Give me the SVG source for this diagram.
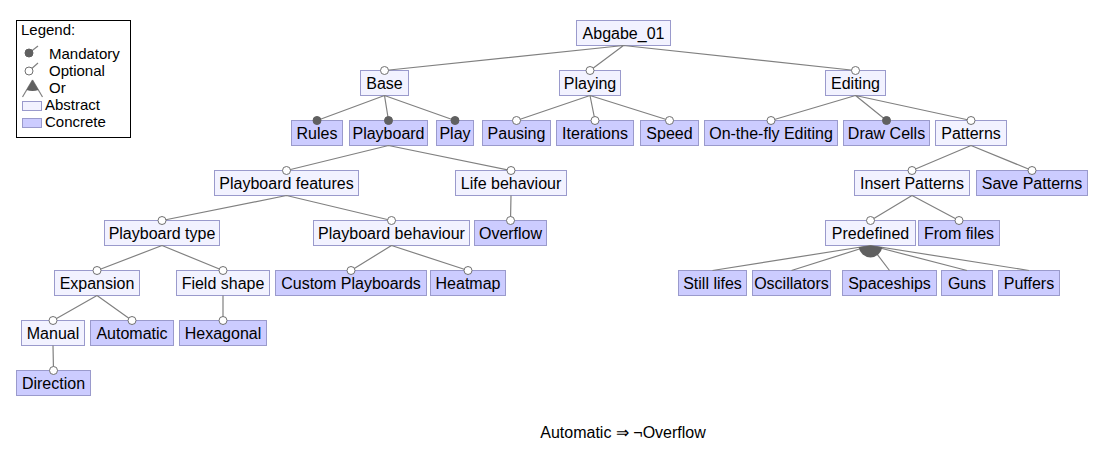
<svg xmlns="http://www.w3.org/2000/svg" width="1106" height="454" viewBox="0 0 1106 454">
<style>
.a{fill:#F2F2FF;stroke:#9A9ACC;stroke-width:1}
.c{fill:#CCCCFF;stroke:#9A9ACC;stroke-width:1}
text{font-family:"Liberation Sans",Arial,sans-serif;font-size:16px;fill:#000}
.t{text-anchor:middle}
.lg{font-size:15px}
.e{stroke:#808080;stroke-width:1.2;fill:none}
.m{fill:#606060;stroke:#606060;stroke-width:1}
.o{fill:#fff;stroke:#707070;stroke-width:1}
.or{fill:#606060;stroke:none}
</style>
<rect width="1106" height="454" fill="#fff"/>
<g id="legend">
<rect x="16.5" y="20.5" width="114" height="117" fill="#fff" stroke="#000"/>
<text class="lg" x="21" y="35">Legend:</text>
<line x1="29" y1="53" x2="38" y2="46" class="e"/>
<circle cx="29" cy="53" r="4" class="m"/>
<text class="lg" x="49" y="59">Mandatory</text>
<line x1="29" y1="71" x2="38" y2="63" class="e"/>
<circle cx="29" cy="71" r="4" class="o"/>
<text class="lg" x="49" y="76">Optional</text>
<line x1="32.5" y1="80" x2="22.5" y2="97" class="e"/>
<line x1="32.5" y1="80" x2="42.5" y2="97" class="e"/>
<path d="M32.5,80 L26.5,90 Q32.5,92 38.5,90 Z" class="or"/>
<text class="lg" x="49" y="93">Or</text>
<rect x="22.5" y="101.5" width="19" height="9" class="a"/>
<text class="lg" x="45" y="110">Abstract</text>
<rect x="22.5" y="118.5" width="19" height="9" class="c"/>
<text class="lg" x="45" y="127">Concrete</text>
</g>
<g id="nodes">
<g id="n-abgabe"><rect class="a" x="576.5" y="20.5" width="94" height="25"/><text class="t" x="623.5" y="39">Abgabe_01</text></g>
<g id="n-base"><rect class="a" x="360.5" y="70.5" width="48" height="25"/><text class="t" x="384.5" y="89">Base</text></g>
<g id="n-playing"><rect class="a" x="559.5" y="70.5" width="61" height="25"/><text class="t" x="590" y="89">Playing</text></g>
<g id="n-editing"><rect class="a" x="825.5" y="70.5" width="60" height="25"/><text class="t" x="855.5" y="89">Editing</text></g>
<g id="n-rules"><rect class="c" x="291.5" y="120.5" width="51" height="25"/><text class="t" x="317" y="139">Rules</text></g>
<g id="n-playboard"><rect class="c" x="349.5" y="120.5" width="78" height="25"/><text class="t" x="388.5" y="139">Playboard</text></g>
<g id="n-play"><rect class="c" x="436.5" y="120.5" width="37" height="25"/><text class="t" x="455" y="139">Play</text></g>
<g id="n-pausing"><rect class="c" x="482.5" y="120.5" width="68" height="25"/><text class="t" x="516.5" y="139">Pausing</text></g>
<g id="n-iterations"><rect class="c" x="556.5" y="120.5" width="77" height="25"/><text class="t" x="595" y="139">Iterations</text></g>
<g id="n-speed"><rect class="c" x="640.5" y="120.5" width="58" height="25"/><text class="t" x="669.5" y="139">Speed</text></g>
<g id="n-otf"><rect class="c" x="704.5" y="120.5" width="133" height="25"/><text class="t" x="771" y="139">On-the-fly Editing</text></g>
<g id="n-drawcells"><rect class="c" x="843.5" y="120.5" width="86" height="25"/><text class="t" x="886.5" y="139">Draw Cells</text></g>
<g id="n-patterns"><rect class="a" x="935.5" y="120.5" width="71" height="25"/><text class="t" x="971" y="139">Patterns</text></g>
<g id="n-pbfeatures"><rect class="a" x="214.5" y="170.5" width="144" height="25"/><text class="t" x="286.5" y="189">Playboard features</text></g>
<g id="n-lifebeh"><rect class="a" x="455.5" y="170.5" width="111" height="25"/><text class="t" x="511" y="189">Life behaviour</text></g>
<g id="n-insertpat"><rect class="a" x="854.5" y="170.5" width="115" height="25"/><text class="t" x="912" y="189">Insert Patterns</text></g>
<g id="n-savepat"><rect class="c" x="976.5" y="170.5" width="111" height="25"/><text class="t" x="1032" y="189">Save Patterns</text></g>
<g id="n-pbtype"><rect class="a" x="104.5" y="220.5" width="115" height="25"/><text class="t" x="162" y="239">Playboard type</text></g>
<g id="n-pbbeh"><rect class="a" x="313.5" y="220.5" width="156" height="25"/><text class="t" x="391.5" y="239">Playboard behaviour</text></g>
<g id="n-overflow"><rect class="c" x="474.5" y="220.5" width="72" height="25"/><text class="t" x="510.5" y="239">Overflow</text></g>
<g id="n-predefined"><rect class="a" x="825.5" y="220.5" width="90" height="25"/><text class="t" x="870.5" y="239">Predefined</text></g>
<g id="n-fromfiles"><rect class="c" x="918.5" y="220.5" width="81" height="25"/><text class="t" x="959" y="239">From files</text></g>
<g id="n-expansion"><rect class="a" x="54.5" y="270.5" width="85" height="25"/><text class="t" x="97" y="289">Expansion</text></g>
<g id="n-fieldshape"><rect class="a" x="176.5" y="270.5" width="93" height="25"/><text class="t" x="223" y="289">Field shape</text></g>
<g id="n-custompb"><rect class="c" x="275.5" y="270.5" width="151" height="25"/><text class="t" x="351" y="289">Custom Playboards</text></g>
<g id="n-heatmap"><rect class="c" x="430.5" y="270.5" width="75" height="25"/><text class="t" x="468" y="289">Heatmap</text></g>
<g id="n-stilllifes"><rect class="c" x="678.5" y="270.5" width="68" height="25"/><text class="t" x="712.5" y="289">Still lifes</text></g>
<g id="n-oscillators"><rect class="c" x="752.5" y="270.5" width="78" height="25"/><text class="t" x="791.5" y="289">Oscillators</text></g>
<g id="n-spaceships"><rect class="c" x="842.5" y="270.5" width="94" height="25"/><text class="t" x="889.5" y="289">Spaceships</text></g>
<g id="n-guns"><rect class="c" x="941.5" y="270.5" width="51" height="25"/><text class="t" x="967" y="289">Guns</text></g>
<g id="n-puffers"><rect class="c" x="998.5" y="270.5" width="61" height="25"/><text class="t" x="1029" y="289">Puffers</text></g>
<g id="n-manual"><rect class="a" x="21.5" y="320.5" width="63" height="25"/><text class="t" x="53" y="339">Manual</text></g>
<g id="n-automatic"><rect class="c" x="90.5" y="320.5" width="83" height="25"/><text class="t" x="132" y="339">Automatic</text></g>
<g id="n-hexagonal"><rect class="c" x="179.5" y="320.5" width="87" height="25"/><text class="t" x="223" y="339">Hexagonal</text></g>
<g id="n-direction"><rect class="c" x="16.5" y="370.5" width="74" height="25"/><text class="t" x="53.5" y="389">Direction</text></g>
</g>
<g id="connectors">
<path class="e" d="M623.5,45.5L384.5,70.5M623.5,45.5L590,70.5M623.5,45.5L855.5,70.5
M384.5,95.5L317,120.5M384.5,95.5L388.5,120.5M384.5,95.5L455,120.5
M590,95.5L516.5,120.5M590,95.5L595,120.5M590,95.5L669.5,120.5
M855.5,95.5L771,120.5M855.5,95.5L886.5,120.5M855.5,95.5L971,120.5
M388.5,145.5L286.5,170.5M388.5,145.5L511,170.5
M971,145.5L912,170.5M971,145.5L1032,170.5
M286.5,195.5L162,220.5M286.5,195.5L391.5,220.5
M511,195.5L510.5,220.5
M912,195.5L870.5,220.5M912,195.5L959,220.5
M162,245.5L97,270.5M162,245.5L223,270.5
M391.5,245.5L351,270.5M391.5,245.5L468,270.5
M870.5,245.5L712.5,270.5M870.5,245.5L791.5,270.5M870.5,245.5L889.5,270.5M870.5,245.5L967,270.5M870.5,245.5L1029,270.5
M97,295.5L53,320.5M97,295.5L132,320.5
M223,295.5L223,320.5
M53,345.5L53.5,370.5"/>
<path class="or" d="M870.5,245.5L882.35,247.37A12,12 0 0 1 858.65,247.37Z"/>
<circle class="o" cx="384.5" cy="70.5" r="4"/>
<circle class="o" cx="590" cy="70.5" r="4"/>
<circle class="o" cx="855.5" cy="70.5" r="4"/>
<circle class="m" cx="317" cy="120.5" r="4"/>
<circle class="m" cx="388.5" cy="120.5" r="4"/>
<circle class="m" cx="455" cy="120.5" r="4"/>
<circle class="o" cx="516.5" cy="120.5" r="4"/>
<circle class="o" cx="595" cy="120.5" r="4"/>
<circle class="o" cx="669.5" cy="120.5" r="4"/>
<circle class="o" cx="771" cy="120.5" r="4"/>
<circle class="m" cx="886.5" cy="120.5" r="4"/>
<circle class="o" cx="971" cy="120.5" r="4"/>
<circle class="o" cx="286.5" cy="170.5" r="4"/>
<circle class="o" cx="511" cy="170.5" r="4"/>
<circle class="o" cx="912" cy="170.5" r="4"/>
<circle class="o" cx="1032" cy="170.5" r="4"/>
<circle class="o" cx="162" cy="220.5" r="4"/>
<circle class="o" cx="391.5" cy="220.5" r="4"/>
<circle class="o" cx="510.5" cy="220.5" r="4"/>
<circle class="o" cx="870.5" cy="220.5" r="4"/>
<circle class="o" cx="959" cy="220.5" r="4"/>
<circle class="o" cx="97" cy="270.5" r="4"/>
<circle class="o" cx="223" cy="270.5" r="4"/>
<circle class="o" cx="351" cy="270.5" r="4"/>
<circle class="o" cx="468" cy="270.5" r="4"/>
<circle class="o" cx="53" cy="320.5" r="4"/>
<circle class="o" cx="132" cy="320.5" r="4"/>
<circle class="o" cx="223" cy="320.5" r="4"/>
<circle class="o" cx="53.5" cy="370.5" r="4"/>
</g>
<text id="constraint" class="t" x="623" y="438">Automatic ⇒ ¬Overflow</text>
</svg>
